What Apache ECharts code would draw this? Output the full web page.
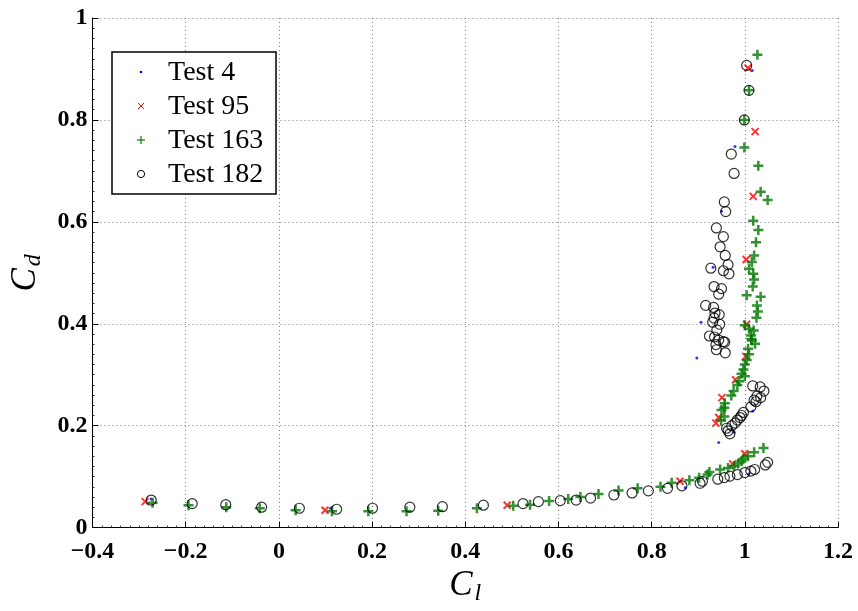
<!DOCTYPE html>
<html>
<head>
<meta charset="utf-8">
<style>
  html, body { margin: 0; padding: 0; background: #fff; }
  #chart { width: 858px; height: 611px; }
</style>
<script src="https://cdn.jsdelivr.net/npm/echarts@6/dist/echarts.min.js"></script>
</head>
<body>
<div id="chart"></div>
<script>
// Lift (Cl) versus drag (Cd) coefficient measurements for four test runs.
const seriesNames = ['Test 4', 'Test 95', 'Test 163', 'Test 182'];

const test4Cl = [-0.274, 0.111, 0.872, 0.944, 0.977, 1.017, 0.897, 0.906, 0.932, 0.950, 0.979, 1.016, 1.008];
const test4Cd = [0.056, 0.038, 0.078, 0.167, 0.187, 0.229, 0.333, 0.403, 0.511, 0.621, 0.748, 0.897, 0.105];

const test95Cl = [-0.287, 0.099, 0.490, 0.861, 0.974, 1.000, 0.938, 0.944, 0.951, 0.980, 1.002, 1.004, 1.003, 1.018, 1.022, 1.007];
const test95Cd = [0.051, 0.034, 0.044, 0.091, 0.125, 0.145, 0.205, 0.216, 0.255, 0.290, 0.336, 0.399, 0.526, 0.650, 0.777, 0.902];

const test163Cl = [-0.271, -0.194, -0.113, -0.041, 0.036, 0.114, 0.192, 0.274, 0.342, 0.425, 0.503, 0.539, 0.580, 0.621, 0.647, 0.686, 0.729, 0.770, 0.819, 0.843, 0.881, 0.902, 0.920, 0.924, 0.947, 0.964, 0.977, 0.986, 0.993, 0.997, 1.007, 1.020, 1.040,
  0.949, 0.956, 0.950, 0.956, 0.957, 0.971, 0.976, 0.984, 0.988, 1.000, 0.993, 0.997, 1.000, 1.004, 1.009, 1.007, 1.022, 1.014, 1.015, 1.013, 1.019, 1.009, 1.000, 1.025, 1.028, 1.026, 1.034, 1.004, 1.017, 1.020, 1.018, 1.009, 1.015, 1.020, 1.024, 1.029, 1.018, 1.049, 1.034, 1.029, 0.999, 0.999, 1.009, 1.027];
const test163Cd = [0.049, 0.044, 0.040, 0.038, 0.034, 0.032, 0.032, 0.032, 0.033, 0.038, 0.043, 0.045, 0.052, 0.056, 0.060, 0.066, 0.073, 0.077, 0.080, 0.088, 0.093, 0.098, 0.104, 0.109, 0.114, 0.117, 0.121, 0.126, 0.130, 0.135, 0.140, 0.148, 0.156,
  0.210, 0.218, 0.231, 0.235, 0.244, 0.259, 0.268, 0.280, 0.287, 0.297, 0.302, 0.310, 0.320, 0.329, 0.340, 0.351, 0.361, 0.370, 0.367, 0.377, 0.387, 0.390, 0.397, 0.412, 0.424, 0.436, 0.453, 0.456, 0.473, 0.487, 0.498, 0.508, 0.521, 0.534, 0.560, 0.584, 0.602, 0.643, 0.659, 0.710, 0.746, 0.800, 0.858, 0.928];

const test182Cl = [-0.274, -0.186, -0.114, -0.037, 0.044, 0.124, 0.201, 0.281, 0.351, 0.439, 0.524, 0.557, 0.604, 0.638, 0.669, 0.719, 0.758, 0.793, 0.834, 0.865, 0.904, 0.909, 0.942, 0.956, 0.968, 0.984, 1.000, 1.013, 1.021, 1.044, 1.049,
  0.968, 0.964, 0.961, 0.972, 0.979, 0.984, 0.990, 0.993, 0.997, 1.013, 1.024, 1.020, 1.034, 1.026, 1.041, 1.033, 1.017,
  0.958, 0.939, 0.938, 0.957, 0.954, 0.944, 0.935, 0.924, 0.940, 0.946, 0.931, 0.934, 0.945, 0.936, 0.933, 0.916, 0.944, 0.950, 0.934, 0.966, 0.954, 0.927, 0.964, 0.958, 0.947, 0.954, 0.939, 0.959, 0.956, 0.977, 0.971, 0.999, 1.009, 1.004];
const test182Cd = [0.054, 0.047, 0.045, 0.040, 0.038, 0.036, 0.038, 0.040, 0.041, 0.044, 0.047, 0.051, 0.053, 0.054, 0.058, 0.064, 0.068, 0.072, 0.077, 0.082, 0.087, 0.091, 0.095, 0.098, 0.101, 0.104, 0.108, 0.111, 0.114, 0.123, 0.128,
  0.184, 0.190, 0.195, 0.200, 0.205, 0.211, 0.216, 0.220, 0.226, 0.237, 0.247, 0.250, 0.255, 0.258, 0.268, 0.276, 0.278,
  0.343, 0.349, 0.359, 0.364, 0.365, 0.368, 0.374, 0.376, 0.388, 0.399, 0.403, 0.411, 0.418, 0.421, 0.432, 0.436, 0.458, 0.469, 0.473, 0.498, 0.504, 0.509, 0.516, 0.534, 0.551, 0.571, 0.588, 0.620, 0.639, 0.695, 0.733, 0.800, 0.858, 0.907];

const xTicks = { min: -0.4, max: 1.2, step: 0.2 };
const yTicks = { min: 0, max: 1, step: 0.2 };

const zip = (xs, ys) => xs.map((x, i) => [x, ys[i]]);

const serifFont = '"Liberation Serif", "Times New Roman", "DejaVu Serif", serif';
const tickFmt = v => {
  const r = Math.round(v * 10) / 10;
  const s = String(Math.abs(r));
  return r < 0 ? '\u2212' + s : s;
};

// Marker styles shared by the series and the legend key
const styles = [
  { symbol: 'circle', size: 3, color: '#0000ff' },
  { symbol: 'path://M0,0L10,10M10,0L0,10', size: 7, color: '#ff0000', width: 2 },
  { symbol: 'path://M5,0L5,10M0,5L10,5', size: 10, color: '#007800', width: 2.5 },
  { symbol: 'circle', size: 10, color: '#000000', width: 1.2 }
];

// Legend key drawn as a boxed block in the upper left of the plot
const legendBox = { x: 112, y: 52, w: 164, h: 142 };
const legendRow0 = 72, legendRowStep = 34, legendIconX = 141, legendTextX = 168;

function legendGraphics() {
  const els = [{
    type: 'rect', z: 50, silent: true,
    shape: { x: legendBox.x, y: legendBox.y, width: legendBox.w, height: legendBox.h },
    style: { fill: '#fff', stroke: '#000', lineWidth: 1.5 }
  }];
  const seg = (x1, y1, x2, y2, color, w) => ({
    type: 'line', z: 60, silent: true,
    shape: { x1, y1, x2, y2 },
    style: { stroke: color, lineWidth: w }
  });
  seriesNames.forEach((name, i) => {
    const cy = legendRow0 + i * legendRowStep;
    const cx = legendIconX;
    if (i === 0) {
      els.push({ type: 'circle', z: 60, silent: true, shape: { cx, cy, r: 1.3 }, style: { fill: '#0000ff' } });
    } else if (i === 1) {
      const h = 3;
      els.push(seg(cx - h, cy - h, cx + h, cy + h, '#ff0000', 1));
      els.push(seg(cx + h, cy - h, cx - h, cy + h, '#ff0000', 1));
    } else if (i === 2) {
      const h = 4;
      els.push(seg(cx, cy - h, cx, cy + h, '#008000', 1.2));
      els.push(seg(cx - h, cy, cx + h, cy, '#008000', 1.2));
    } else {
      els.push({ type: 'circle', z: 60, silent: true, shape: { cx, cy, r: 3.6 }, style: { fill: 'none', stroke: '#000', lineWidth: 1 } });
    }
    els.push({
      type: 'text', z: 60, silent: true,
      x: legendTextX, y: cy + 1,
      style: { text: name, fontFamily: serifFont, fontSize: 28, fill: '#000', verticalAlign: 'middle', align: 'left' }
    });
  });
  return els;
}

const chart = echarts.init(document.getElementById('chart'), null, { renderer: 'canvas' });

const option = {
  backgroundColor: '#fff',
  animation: false,
  grid: { left: 91, right: 20, top: 18, bottom: 79 },
  xAxis: {
    type: 'value',
    min: xTicks.min, max: xTicks.max, interval: xTicks.step,
    name: '{c|C}{s|l}',
    nameLocation: 'middle',
    nameGap: 36,
    nameTextStyle: {
      rich: {
        c: { fontFamily: serifFont, fontStyle: 'italic', fontSize: 35, color: '#000' },
        s: { fontFamily: serifFont, fontStyle: 'italic', fontSize: 24, color: '#000', padding: [16, 0, 0, 2] }
      }
    },
    axisLine: { show: true, onZero: false, lineStyle: { color: '#000', width: 1 } },
    axisTick: { show: true, inside: true, length: 6, lineStyle: { color: '#000' } },
    minorTick: { show: true, splitNumber: 10, length: 2, lineStyle: { color: '#333' } },
    axisLabel: { formatter: tickFmt, margin: 12, fontFamily: serifFont, fontWeight: 'bold', fontSize: 24, color: '#000' },
    splitLine: { show: true, lineStyle: { color: '#777', type: [1, 3], width: 1 } }
  },
  yAxis: {
    type: 'value',
    min: yTicks.min, max: yTicks.max, interval: yTicks.step,
    name: '{c|C}{s|d}',
    nameLocation: 'middle',
    nameGap: 47,
    nameRotate: 90,
    nameTextStyle: {
      rich: {
        c: { fontFamily: serifFont, fontStyle: 'italic', fontSize: 35, color: '#000' },
        s: { fontFamily: serifFont, fontStyle: 'italic', fontSize: 24, color: '#000', padding: [16, 0, 0, 2] }
      }
    },
    axisLine: { show: true, onZero: false, lineStyle: { color: '#000', width: 1 } },
    axisTick: { show: true, inside: true, length: 6, lineStyle: { color: '#000' } },
    minorTick: { show: true, splitNumber: 10, length: 2, lineStyle: { color: '#333' } },
    axisLabel: { formatter: tickFmt, margin: 5, fontFamily: serifFont, fontWeight: 'bold', fontSize: 24, color: '#000' },
    splitLine: { show: true, lineStyle: { color: '#777', type: [1, 3], width: 1 } }
  },
  graphic: legendGraphics(),
  series: [
    { data: zip(test4Cl, test4Cd) },
    { data: zip(test95Cl, test95Cd) },
    { data: zip(test163Cl, test163Cd) },
    { data: zip(test182Cl, test182Cd) }
  ].map((s, i) => {
    const st = styles[i];
    return {
      name: seriesNames[i], type: 'scatter', z: 2 + i,
      data: s.data,
      symbol: st.symbol, symbolSize: st.size,
      itemStyle: i === 0
        ? { color: st.color }
        : { color: 'rgba(0,0,0,0)', borderColor: st.color, borderWidth: st.width }
    };
  })
};

chart.setOption(option);
</script>
</body>
</html>
